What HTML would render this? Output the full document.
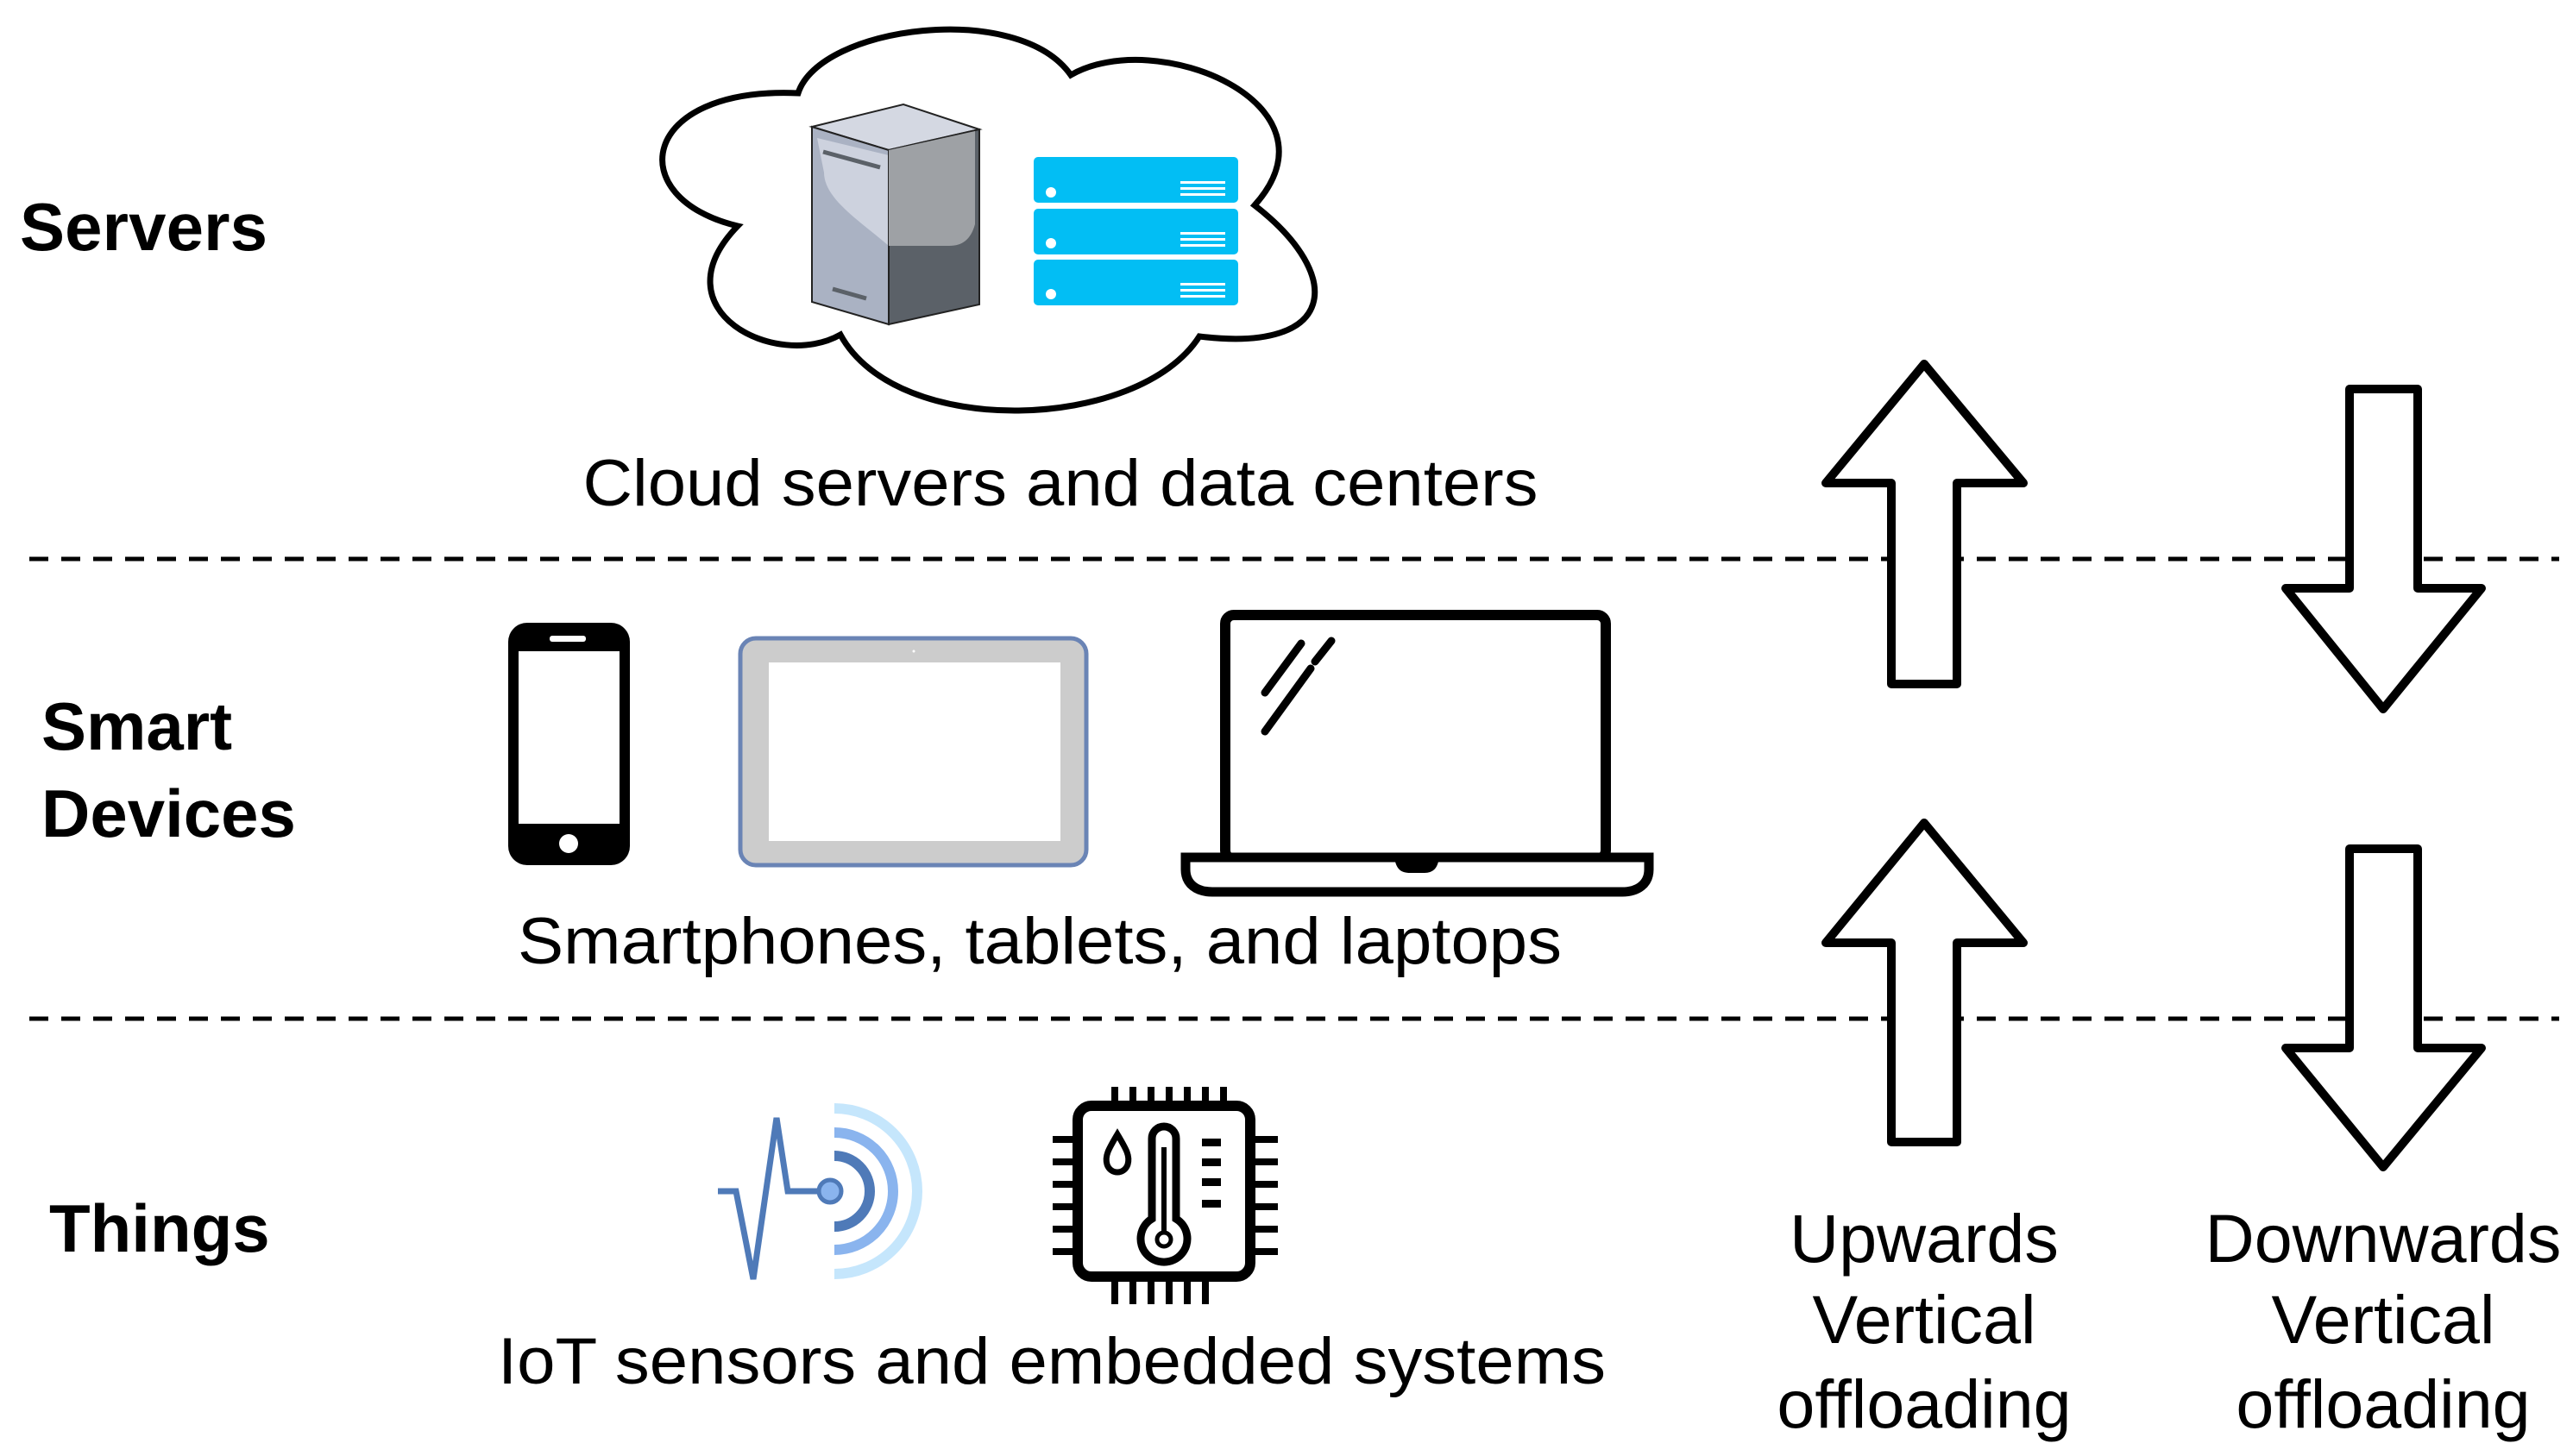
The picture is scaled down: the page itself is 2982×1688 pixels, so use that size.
<!DOCTYPE html>
<html><head><meta charset="utf-8"><style>
html,body{margin:0;padding:0;background:#fff;}
svg{display:block;}
text{font-family:"Liberation Sans",sans-serif;fill:#000;}
</style></head><body>
<svg width="2982" height="1688" viewBox="0 0 2982 1688" xmlns="http://www.w3.org/2000/svg">
<rect width="2982" height="1688" fill="#fff"/>
<line x1="34" y1="648" x2="2966" y2="648" stroke="#000" stroke-width="5" stroke-dasharray="22,15"/>
<line x1="34" y1="1181" x2="2966" y2="1181" stroke="#000" stroke-width="5" stroke-dasharray="22,15"/>
<text x="23" y="290" font-size="78" font-weight="bold" textLength="287">Servers</text>
<text x="48" y="869" font-size="78" font-weight="bold">Smart</text>
<text x="48" y="970" font-size="78" font-weight="bold">Devices</text>
<text x="57" y="1451" font-size="78" font-weight="bold">Things</text>
<path d="M925,108 C950,30 1180,0 1241,87 C1340,30 1560,120 1454,238 C1560,320 1550,410 1390,390 C1320,500 1040,510 974,388 C900,430 760,360 855,262 C720,230 740,100 925,108 Z" fill="#fff" stroke="#000" stroke-width="7"/>
<polygon points="941,147 1047,121 1135,150 1030,174" fill="#d4d8e2" stroke="#222" stroke-width="2"/>
<polygon points="941,147 1030,174 1030,376 941,350" fill="#aab2c3" stroke="#222" stroke-width="2"/>
<path d="M947,160 L1030,180 L1030,285 C995,255 955,230 955,200 Z" fill="#cdd2de"/>
<polygon points="1030,174 1135,150 1135,353 1030,376" fill="#5b6168" stroke="#222" stroke-width="2"/>
<path d="M1030,174 L1130,152 L1130,260 C1125,278 1115,285 1100,285 L1030,285 Z" fill="#9ea1a5"/>
<line x1="954" y1="176" x2="1020" y2="194" stroke="#5b6168" stroke-width="5"/>
<line x1="965" y1="335" x2="1004" y2="346" stroke="#5b6168" stroke-width="5"/>
<g fill="#02bef4">
<rect x="1198" y="182" width="237" height="53" rx="5"/>
<rect x="1198" y="242" width="237" height="53" rx="5"/>
<rect x="1198" y="301" width="237" height="53" rx="5"/>
</g>
<g fill="#fff">
<ellipse cx="1218" cy="223" rx="6" ry="6"/><ellipse cx="1218" cy="282" rx="6" ry="6"/><ellipse cx="1218" cy="341" rx="6" ry="6"/>
<rect x="1368" y="210" width="52" height="3"/><rect x="1368" y="217" width="52" height="3"/><rect x="1368" y="224" width="52" height="3"/>
<rect x="1368" y="269" width="52" height="3"/><rect x="1368" y="276" width="52" height="3"/><rect x="1368" y="283" width="52" height="3"/>
<rect x="1368" y="328" width="52" height="3"/><rect x="1368" y="335" width="52" height="3"/><rect x="1368" y="342" width="52" height="3"/>
</g>
<text x="1229" y="586" font-size="76" text-anchor="middle" textLength="1107" lengthAdjust="spacingAndGlyphs">Cloud servers and data centers</text>
<rect x="589" y="722" width="141" height="281" rx="22" fill="#000"/>
<rect x="601" y="755" width="117" height="200" fill="#fff"/>
<rect x="637" y="737" width="42" height="7" rx="3" fill="#fff"/>
<circle cx="659" cy="978" r="11" fill="#fff"/>
<rect x="858" y="740" width="401" height="263" rx="18" fill="#cccccc" stroke="#6a84b5" stroke-width="5"/>
<rect x="891" y="768" width="338" height="207" fill="#fff"/>
<circle cx="1059" cy="755" r="1.5" fill="#fff"/>
<rect x="1420" y="713" width="441" height="283" rx="10" fill="#fff" stroke="#000" stroke-width="12"/>
<path d="M1374,994 L1911,994 L1911,1008 C1911,1025 1898,1034 1880,1034 L1405,1034 C1387,1034 1374,1025 1374,1008 Z" fill="#fff" stroke="#000" stroke-width="11"/>
<path d="M1616,994 L1668,994 C1666,1008 1660,1012 1650,1012 L1634,1012 C1624,1012 1618,1008 1616,994 Z" fill="#000"/>
<g stroke="#000" stroke-width="9" stroke-linecap="round">
<line x1="1466" y1="803" x2="1508" y2="746"/>
<line x1="1524" y1="767" x2="1543" y2="743"/>
<line x1="1466" y1="848" x2="1519" y2="775"/>
</g>
<text x="1205" y="1117" font-size="76" text-anchor="middle" textLength="1210" lengthAdjust="spacingAndGlyphs">Smartphones, tablets, and laptops</text>
<polyline points="832,1381 853,1381 873,1483 900,1296 913,1381 960,1381" fill="none" stroke="#4f7ab8" stroke-width="7" stroke-linejoin="miter"/>
<circle cx="962" cy="1381" r="13" fill="#8ab4ee" stroke="#4f7ab8" stroke-width="5"/>
<path d="M967,1340 A41,41 0 0 1 967,1422" fill="none" stroke="#4f7ab8" stroke-width="12"/>
<path d="M967,1313 A68,68 0 0 1 967,1449" fill="none" stroke="#8ab4ee" stroke-width="12"/>
<path d="M967,1285 A96,96 0 0 1 967,1477" fill="none" stroke="#c5e6fc" stroke-width="12"/>
<g fill="#000">
<rect x="1249" y="1282" width="200" height="198" rx="16" fill="#fff" stroke="#000" stroke-width="12"/>
<rect x="1288" y="1260" width="8" height="24"/><rect x="1309" y="1260" width="8" height="24"/><rect x="1330" y="1260" width="8" height="24"/><rect x="1351" y="1260" width="8" height="24"/><rect x="1372" y="1260" width="8" height="24"/><rect x="1393" y="1260" width="8" height="24"/><rect x="1414" y="1260" width="8" height="24"/>
<rect x="1288" y="1478" width="8" height="34"/><rect x="1309" y="1478" width="8" height="34"/><rect x="1330" y="1478" width="8" height="34"/><rect x="1351" y="1478" width="8" height="34"/><rect x="1372" y="1478" width="8" height="34"/><rect x="1393" y="1478" width="8" height="34"/>
<rect x="1220" y="1317" width="31" height="8"/><rect x="1220" y="1343" width="31" height="8"/><rect x="1220" y="1369" width="31" height="8"/><rect x="1220" y="1395" width="31" height="8"/><rect x="1220" y="1421" width="31" height="8"/><rect x="1220" y="1447" width="31" height="8"/>
<rect x="1447" y="1317" width="34" height="8"/><rect x="1447" y="1343" width="34" height="8"/><rect x="1447" y="1369" width="34" height="8"/><rect x="1447" y="1395" width="34" height="8"/><rect x="1447" y="1421" width="34" height="8"/><rect x="1447" y="1447" width="34" height="8"/>
<rect x="1393" y="1320" width="22" height="9"/><rect x="1393" y="1343" width="22" height="9"/><rect x="1393" y="1366" width="22" height="9"/><rect x="1393" y="1391" width="22" height="9"/>
</g>
<path d="M1335,1413 L1335,1320 A14,14 0 0 1 1363,1320 L1363,1413 A27,27 0 1 1 1335,1413 Z" fill="#fff" stroke="#000" stroke-width="9"/>
<line x1="1349" y1="1330" x2="1349" y2="1430" stroke="#000" stroke-width="6"/>
<circle cx="1349" cy="1437" r="8" fill="#fff" stroke="#000" stroke-width="5"/>
<path d="M1295,1315 C1285,1332 1280,1340 1283,1350 C1287,1362 1303,1362 1307,1350 C1310,1340 1305,1332 1295,1315 Z" fill="#fff" stroke="#000" stroke-width="7"/>
<text x="1219" y="1604" font-size="76" text-anchor="middle" textLength="1284" lengthAdjust="spacingAndGlyphs">IoT sensors and embedded systems</text>
<g fill="#fff" stroke="#000" stroke-width="10" stroke-linejoin="round">
<polygon points="2230,422 2345,560 2268,560 2268,793 2192,793 2192,560 2116,560"/>
<polygon points="2230,954 2345,1093 2268,1093 2268,1324 2192,1324 2192,1093 2116,1093"/>
<polygon points="2723,451 2802,451 2802,682 2876,682 2762,822 2649,682 2723,682"/>
<polygon points="2723,984 2802,984 2802,1215 2876,1215 2762,1353 2649,1215 2723,1215"/>
</g>
<g font-size="79" text-anchor="middle">
<text x="2230" y="1463">Upwards</text>
<text x="2230" y="1557">Vertical</text>
<text x="2230" y="1655">offloading</text>
<text x="2762" y="1463">Downwards</text>
<text x="2762" y="1557">Vertical</text>
<text x="2762" y="1655">offloading</text>
</g>
</svg>
</body></html>
